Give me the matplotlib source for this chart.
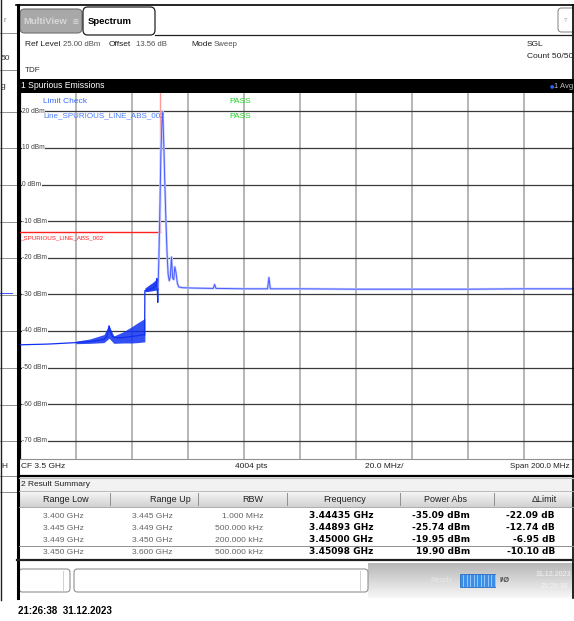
import numpy as np
import matplotlib.pyplot as plt
from matplotlib.patches import Rectangle, FancyBboxPatch
from matplotlib.lines import Line2D

# trace (GHz, dBm)
freq_a = [3.4000, 3.4050, 3.4100, 3.4150, 3.4200, 3.4250, 3.4280, 3.4300, 3.4310,
          3.4318, 3.4325, 3.4332, 3.4340, 3.4360, 3.4380, 3.4400, 3.4420, 3.4440,
          3.4445, 3.4446, 3.4460, 3.4475, 3.4486, 3.4489, 3.4492, 3.4493]
level_a = [-43.8, -43.7, -43.6, -43.4, -43.2, -42.9, -42.6, -42.3, -41.5,
           -38.6, -40.8, -41.6, -41.8, -41.9, -41.7, -41.5, -41.3, -41.0,
           -41.2, -29.0, -28.7, -28.3, -27.5, -25.7, -32.2, -28.5]

freq_b = [3.4493, 3.4496, 3.4500, 3.4503, 3.4507, 3.45098, 3.4513, 3.4517, 3.4521,
          3.4525, 3.4529, 3.4533, 3.4537, 3.4541, 3.4545, 3.4549, 3.4553, 3.4557,
          3.4562, 3.4567, 3.4580, 3.4620, 3.4690, 3.4695, 3.4700, 3.4710, 3.4800,
          3.4884, 3.4889, 3.4894, 3.5000, 3.5200, 3.5400, 3.5600, 3.5800, 3.6000]
level_b = [-28.5, -20.0, -5.0, 8.0, 17.0, 19.9, 12.5, 1.0, -9.5,
           -18.5, -24.5, -26.3, -25.0, -19.8, -25.5, -26.0, -22.5, -24.0,
           -27.0, -28.0, -28.2, -28.3, -28.4, -27.3, -28.4, -28.4, -28.5,
           -28.5, -25.4, -28.5, -28.5, -28.6, -28.6, -28.6, -28.5, -28.5]

# noisy bands below the carrier
band1_f = [3.4200, 3.4250, 3.4300, 3.4318, 3.4335, 3.4370, 3.4400, 3.4420, 3.4446]
band1_lo = [-43.5, -43.4, -43.2, -42.0, -43.4, -43.3, -43.3, -43.2, -43.0]
band1_hi = [-42.8, -42.2, -41.0, -38.5, -41.4, -40.2, -38.8, -37.8, -36.6]
band2_f = [3.4446, 3.4460, 3.4475, 3.4489]
band2_lo = [-29.3, -29.2, -29.0, -28.8]
band2_hi = [-28.3, -27.5, -26.7, -25.7]

limit_f = [3.400, 3.450]
limit_level = -13.0

grid_levels = [20, 10, 0, -10, -20, -30, -40, -50, -60, -70]

range_low = ['3.400 GHz', '3.445 GHz', '3.449 GHz', '3.450 GHz']
range_up = ['3.445 GHz', '3.449 GHz', '3.450 GHz', '3.600 GHz']
rbw = ['1.000 MHz', '500.000 kHz', '200.000 kHz', '500.000 kHz']
peak_freq = ['3.44435 GHz', '3.44893 GHz', '3.45000 GHz', '3.45098 GHz']
power_abs = ['-35.09 dBm', '-25.74 dBm', '-19.95 dBm', '19.90 dBm']
delta_limit = ['-22.09 dB', '-12.74 dB', '-6.95 dB', '-10.10 dB']
headers = ['Range Low', 'Range Up', 'RBW', 'Frequency', 'Power Abs', '\u0394Limit']

SANS = ['Liberation Sans', 'DejaVu Sans']
BOLD = ['DejaVu Sans', 'Liberation Sans']

W, H = 574, 621
fig = plt.figure(figsize=(W / 100, H / 100), dpi=100)
fig.patch.set_facecolor('white')


def fx(x):
    return x / W


def fy(y):
    return 1 - y / H


def box(x0, y0, x1, y1, **kw):
    fig.patches.append(Rectangle((fx(x0), fy(y1)), (x1 - x0) / W, (y1 - y0) / H,
                                 transform=fig.transFigure, **kw))


def hl(y, x0, x1, **kw):
    fig.lines.append(Line2D([fx(x0), fx(x1)], [fy(y), fy(y)], transform=fig.transFigure, **kw))


def vl(x, y0, y1, **kw):
    fig.lines.append(Line2D([fx(x), fx(x)], [fy(y0), fy(y1)], transform=fig.transFigure, **kw))


def txt(x, y, s, size=6, color='#202020', family=SANS, **kw):
    fig.text(fx(x), fy(y), s, va='center', fontsize=size, color=color, family=family, **kw)


def gradient(x0, y0, x1, y1, c_top, c_bot):
    g = fig.add_axes([fx(x0), fy(y1), (x1 - x0) / W, (y1 - y0) / H])
    t = np.linspace(0, 1, 32)[:, None]
    top = np.array(c_top)
    bot = np.array(c_bot)
    img = top[None, None, :] * (1 - t[:, :, None]) + bot[None, None, :] * t[:, :, None]
    g.imshow(img, aspect='auto', interpolation='bilinear')
    g.set_axis_off()
    return g


# ---- spectrum axes ----
ax = fig.add_axes([fx(20), fy(459), 560 / W, 366 / H])
ax.set_xlim(3.4, 3.6)
ax.set_ylim(-75, 25)
ax.set_xticks([])
ax.set_yticks([])
for s in ['top', 'right']:
    ax.spines[s].set_visible(False)
ax.spines['left'].set_linewidth(1.6)
ax.spines['left'].set_color('black')
ax.spines['bottom'].set_color('#909090')
ax.spines['bottom'].set_linewidth(0.8)

for f in np.arange(3.42, 3.6, 0.02):
    ax.axvline(f, color='#b0b0b0', lw=1.3, zorder=1)
for lv in grid_levels:
    ax.axhline(lv, color='#3a3a3a', lw=0.9, zorder=1)
    ax.text(0.004, lv, f'{lv} dBm', transform=ax.get_yaxis_transform(), fontsize=4.8,
            color='#404040', va='center', family=SANS, zorder=3,
            bbox=dict(facecolor='white', edgecolor='none', pad=0.3))

ax.plot(limit_f, [limit_level, limit_level], color='#ff2020', lw=1.0, zorder=4)
ax.plot([limit_f[1], limit_f[1]], [limit_level, 25], color='#ff9a9a', lw=1.0, zorder=4)
ax.text(0.0, limit_level - 1.6, '_SPURIOUS_LINE_ABS_002', transform=ax.get_yaxis_transform(),
        fontsize=4.5, color='#ff2020', va='center', family=SANS, zorder=5)

ax.fill_between(band1_f, band1_lo, band1_hi, color='#1030f0', alpha=0.85, lw=0, zorder=5)
ax.fill_between(band2_f, band2_lo, band2_hi, color='#1030f0', alpha=0.9, lw=0, zorder=5)
ax.plot(freq_a, level_a, color='#1030f0', lw=0.9, zorder=6)
ax.plot(freq_b, level_b, color='#c4ccff', lw=1.7, zorder=5)
ax.plot(freq_b, level_b, color='#4a5cff', lw=0.7, zorder=6)

ax.text(0.041, 0.977, 'Limit Check', transform=ax.transAxes, fontsize=6, color='#3a6cff',
        va='center', family=SANS, zorder=7)
ax.text(0.041, 0.937, 'Line_SPURIOUS_LINE_ABS_002', transform=ax.transAxes, fontsize=5.8,
        color='#4a7cff', va='center', family=SANS, zorder=7)
ax.text(0.373, 0.977, 'PASS', transform=ax.transAxes, fontsize=6, color='#22d022',
        va='center', family=SANS, zorder=7)
ax.text(0.373, 0.937, 'PASS', transform=ax.transAxes, fontsize=6, color='#22d022',
        va='center', family=SANS, zorder=7)

# ---- left strip (window behind) ----
for y in [33, 70, 112, 148, 185, 222, 258, 295, 331, 368, 405, 441, 476, 492]:
    hl(y, 0, 16, color='#909090', lw=0.7)
hl(293, 0, 12, color='#4a5cff', lw=0.8)
vl(1.2, 0, 600, color='#202020', lw=1.0)
txt(3, 20, 'r', size=5.5, color='#808080')
txt(1, 58, '50', size=6, color='#303030')
txt(1, 87, 'g', size=6, color='#303030')
txt(1, 467, 'H', size=6, color='#303030')

# ---- window frame and tabs ----
hl(5, 16, 574, color='black', lw=1.2)
vl(17.5, 5, 598, color='black', lw=2.2)
vl(573.2, 5, 598, color='black', lw=1.2)
fig.patches.append(FancyBboxPatch((fx(20), fy(33)), 62 / W, 24 / H, boxstyle='round,pad=0,rounding_size=0.008',
                                  transform=fig.transFigure, facecolor='#a8a8a8', edgecolor='#707070', lw=0.8))
txt(23, 22, 'MultiView', size=6.8, color='#d8d8d8', family=SANS, weight='bold')
txt(72, 22, '\u229e', size=5, color='#e0e0e0', family=['DejaVu Sans'])
fig.patches.append(FancyBboxPatch((fx(83), fy(35)), 72 / W, 28 / H, boxstyle='round,pad=0,rounding_size=0.008',
                                  transform=fig.transFigure, facecolor='white', edgecolor='#202020', lw=0.9))
txt(88, 22, 'Spectrum', size=6.8, color='black', family=SANS, weight='bold')
hl(34.5, 155, 574, color='#202020', lw=0.9)
fig.patches.append(FancyBboxPatch((fx(558), fy(32)), 20 / W, 24 / H, boxstyle='round,pad=0,rounding_size=0.006',
                                  transform=fig.transFigure, facecolor='white', edgecolor='#808080', lw=0.7))
txt(564, 20, '\u25bf', size=5, color='#a0a0a0', family=['DejaVu Sans'])

# ---- measurement info ----
txt(25, 45, 'Ref Level', size=6, color='#202020')
txt(63, 45, '25.00 dBm', size=5.6, color='#505050')
txt(109, 45, 'Offset', size=6, color='#202020')
txt(136, 45, '13.56 dB', size=5.6, color='#505050')
txt(191, 45, 'Mode', size=6, color='#202020')
txt(214, 45, 'Sweep', size=5.6, color='#505050')
txt(527, 44, 'SGL', size=6, color='#202020')
txt(527, 57, 'Count 50/50', size=6, color='#202020')
txt(25, 70, 'TDF', size=5.8, color='#303030')

box(19, 79, 574, 93, facecolor='black', edgecolor='none')
txt(21, 86, '1 Spurious Emissions', size=6.2, color='white')
txt(550, 86, '\u25cf', size=3.5, color='#3060ff', family=['DejaVu Sans'])
txt(554, 86, '1 Avg', size=5.5, color='#c0c0c0')

# ---- footer of the diagram ----
hl(475.5, 19, 574, color='black', lw=1.6)
txt(21, 467, 'CF 3.5 GHz', size=6)
txt(251, 467, '4004 pts', size=6, ha='center')
txt(384, 467, '20.0 MHz/', size=6, ha='center')
txt(510, 467, 'Span 200.0 MHz', size=5.8)

# ---- result summary table ----
box(19, 477, 574, 491, facecolor='#f2f2f2', edgecolor='none')
hl(477.5, 19, 574, color='#c0c0c0', lw=0.8)
txt(21, 484, '2 Result Summary', size=6)
gradient(19, 491, 574, 507, (0.97, 0.97, 0.97), (0.82, 0.82, 0.82))
hl(491, 19, 574, color='#b0b0b0', lw=0.6)
hl(507, 19, 574, color='#a0a0a0', lw=0.6)
for x in [110, 198, 287, 400, 494]:
    vl(x, 493, 505, color='#909090', lw=0.7)
for x, h in zip([66, 170, 253, 345, 446, 544], headers):
    txt(x, 499, h, size=6.5, color='#202020', ha='center')

row_y = [516, 528, 540, 552]
hl(546, 19, 574, color='#909090', lw=0.7)
for i, y in enumerate(row_y):
    txt(63, y, range_low[i], size=6.1, color='#656565', ha='center')
    txt(152, y, range_up[i], size=6.1, color='#656565', ha='center')
    txt(263, y, rbw[i], size=6.1, color='#656565', ha='right')
    txt(341, y, peak_freq[i], size=6.5, color='black', ha='center', family=BOLD, weight='bold')
    txt(470, y, power_abs[i], size=6.5, color='black', ha='right', family=BOLD, weight='bold')
    txt(555, y, delta_limit[i], size=6.5, color='black', ha='right', family=BOLD, weight='bold')
hl(560, 17, 574, color='#202020', lw=1.6)

# ---- status bar ----
gradient(368, 563, 574, 598, (0.72, 0.72, 0.72), (0.97, 0.97, 0.97))
for x0, x1, d in [(19, 70, 63), (74, 368, 360)]:
    fig.patches.append(FancyBboxPatch((fx(x0), fy(592)), (x1 - x0) / W, 23 / H,
                                      boxstyle='round,pad=0,rounding_size=0.006',
                                      transform=fig.transFigure, facecolor='white',
                                      edgecolor='#909090', lw=0.8))
    vl(d, 571, 590, color='#d0d0d0', lw=0.7)
txt(430, 580, 'Ready', size=5.5, color='#e8e8e8')
box(460, 574, 495, 587, facecolor='#3a8ee8', edgecolor='#2a70c0', lw=0.6)
for x in np.arange(463, 495, 3.5):
    vl(x, 575, 586, color='#a8d0ff', lw=0.6)
txt(499, 580, 'I/\u00d8', size=5.5, color='#505050', family=SANS, weight='bold')
txt(536, 575, '31.12.2023', size=5, color='#f4f4f4')
txt(541, 586, '21:26:38', size=5, color='#f4f4f4')

txt(18, 611, '21:26:38  31.12.2023', size=7, color='black', family=SANS, weight='bold')

fig.savefig('out.png', dpi=100)
